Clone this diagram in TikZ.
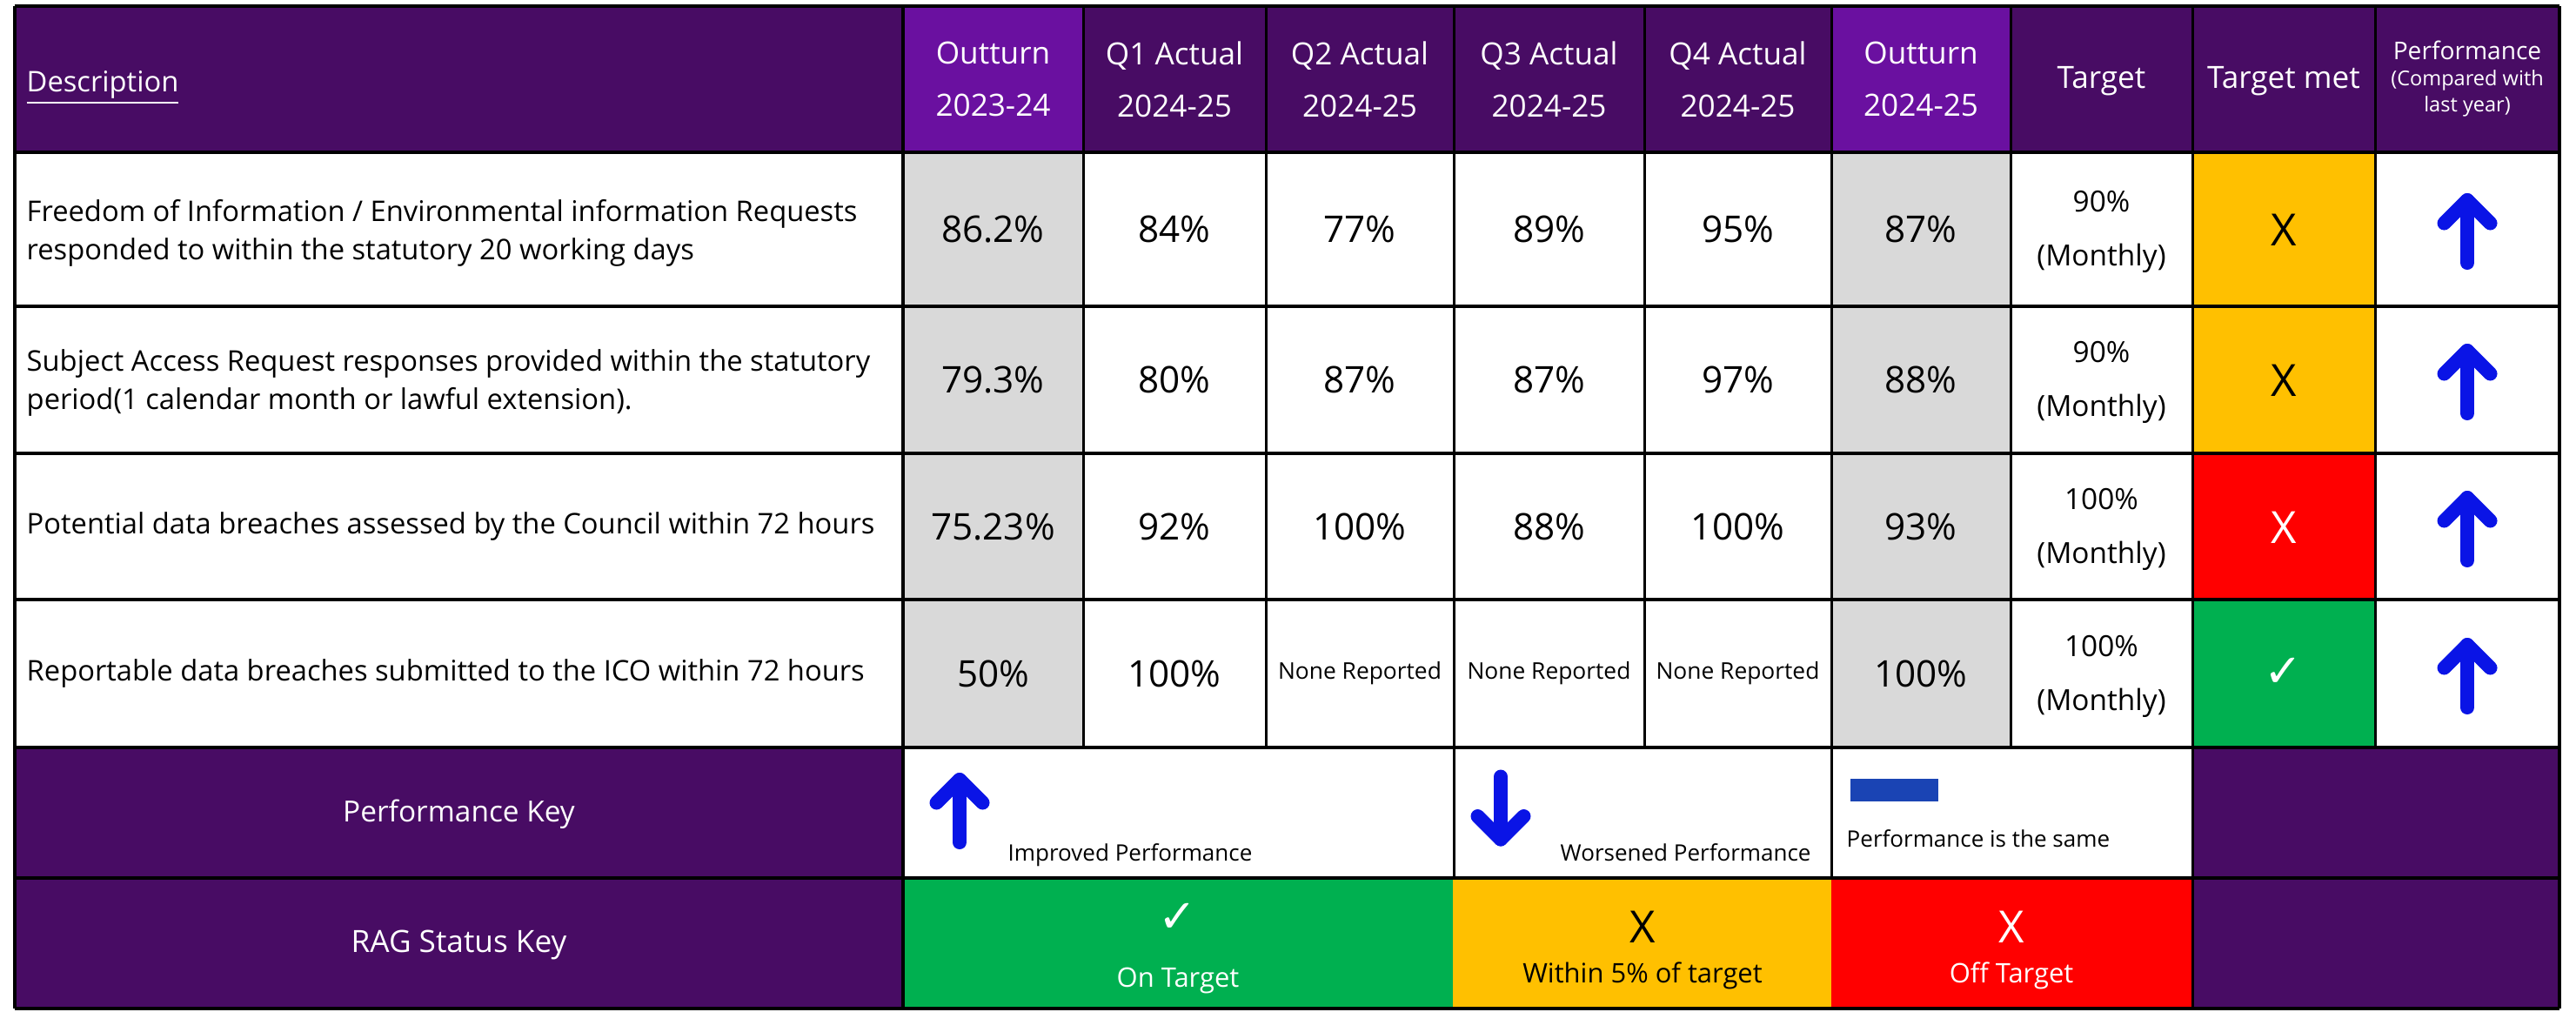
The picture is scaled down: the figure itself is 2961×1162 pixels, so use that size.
\documentclass[tikz,border=0pt]{standalone}
\usepackage{fontspec}
\setmainfont{Open Sans}
\newfontfamily\symfont{DejaVu Sans}
\usetikzlibrary{positioning}
\definecolor{darkpurple}{HTML}{480C64}
\definecolor{lightpurple}{HTML}{6A10A0}
\definecolor{cellgrey}{HTML}{D9D9D9}
\definecolor{amber}{HTML}{FFC000}
\definecolor{ragred}{HTML}{FF0000}
\definecolor{raggreen}{HTML}{00B050}
\definecolor{arrowblue}{HTML}{0A14E6}
\definecolor{sameblue}{HTML}{1A44B4}
\tikzset{
    hdr/.style={text=white, align=center, font=\fontsize{10}{17}\selectfont},
    desc/.style={anchor=west, align=left, inner sep=0pt, font=\fontsize{9.3}{12.6}\selectfont},
    val/.style={font=\fontsize{12}{14}\selectfont},
    none/.style={font=\fontsize{7.5}{9}\selectfont},
    tgt/.style={align=center, font=\fontsize{9.5}{17.6}\selectfont},
    metx/.style={font=\fontsize{14.5}{16}\selectfont},
    tick/.style={font=\symfont\fontsize{15}{16}\selectfont, text=white},
    keytxt/.style={anchor=base west, inner sep=0pt, font=\fontsize{7.4}{9}\selectfont},
    ragtxt/.style={anchor=base, font=\fontsize{8.8}{10}\selectfont},
    rowline/.style={line width=0.04cm},
    colline/.style={line width=0.03cm},
    arrowline/.style={draw=arrowblue, line width=0.16cm, line cap=round, line join=round},
    pics/uparr/.style={code={
        \draw[arrowline] (0,36) -- (0,-36);
        \draw[arrowline] (-26.5,-9.5) -- (0,-36) -- (26.5,-9.5);
    }}
}
\begin{document}
\begin{tikzpicture}[x=0.01cm, y=-0.01cm]
        \useasboundingbox (0,0) rectangle (2961,1162);
        \fill[darkpurple] (17,7) rectangle (2942,175);
        \fill[lightpurple] (1038,7) rectangle (1245,175);
        \fill[lightpurple] (2105,7) rectangle (2311,175);
        \fill[cellgrey] (1038,175) rectangle (1245,859);
        \fill[cellgrey] (2105,175) rectangle (2311,859);
        \fill[amber] (2520,175) rectangle (2730,521);
        \fill[ragred] (2520,521) rectangle (2730,689);
        \fill[raggreen] (2520,689) rectangle (2730,859);
        \fill[darkpurple] (17,859) rectangle (1038,1159);
        \fill[darkpurple] (2520,859) rectangle (2942,1159);
        \fill[raggreen] (1038,1009) rectangle (1670,1159);
        \fill[amber] (1670,1009) rectangle (2105,1159);
        \fill[ragred] (2105,1009) rectangle (2520,1159);
        \fill[sameblue] (2127,895) rectangle (2228,921);

        \draw[rowline] (17,7) -- (2942,7);
        \draw[rowline] (17,175) -- (2942,175);
        \draw[rowline] (17,352) -- (2942,352);
        \draw[rowline] (17,521) -- (2942,521);
        \draw[rowline] (17,689) -- (2942,689);
        \draw[rowline] (17,859) -- (2942,859);
        \draw[rowline] (17,1009) -- (2942,1009);
        \draw[rowline] (17,1159) -- (2942,1159);
        \draw[rowline] (17,7) -- (17,1159);
        \draw[rowline] (1038,7) -- (1038,1159);
        \draw[rowline] (2942,7) -- (2942,1159);
        \draw[colline] (1245,7) -- (1245,859);
        \draw[colline] (1455,7) -- (1455,859);
        \draw[colline] (1671,7) -- (1671,1009);
        \draw[colline] (1890,7) -- (1890,859);
        \draw[colline] (2105,7) -- (2105,1009);
        \draw[colline] (2311,7) -- (2311,859);
        \draw[colline] (2520,7) -- (2520,1159);
        \draw[colline] (2730,7) -- (2730,859);

        \node[anchor=base west, inner sep=0pt, text=white, font=\fontsize{9.3}{12}\selectfont] (HDesc) at (30,105) {\underline{Description}};
        \node[hdr] (HOut1) at (1141.5,91) {Outturn\\2023-24};
        \node[hdr] (HQ1) at (1350,91) {Q1 Actual\\2024-25};
        \node[hdr] (HQ2) at (1563,91) {Q2 Actual\\2024-25};
        \node[hdr] (HQ3) at (1780.5,91) {Q3 Actual\\2024-25};
        \node[hdr] (HQ4) at (1997.5,91) {Q4 Actual\\2024-25};
        \node[hdr] (HOut2) at (2208,91) {Outturn\\2024-25};
        \node[hdr] (HTgt) at (2415.5,93) {Target};
        \node[hdr] (HMet) at (2625,93) {Target met};
        \node[hdr, anchor=base, font=\fontsize{8}{10}\selectfont] (HPerf1) at (2836,68) {Performance};
        \node[hdr, anchor=base, font=\fontsize{6.7}{8}\selectfont] (HPerf2) at (2836,98) {(Compared with};
        \node[hdr, anchor=base, font=\fontsize{6.7}{8}\selectfont] (HPerf3) at (2836,128) {last year)};

        \node[desc] (DescA) at (30,268) {Freedom of Information / Environmental information Requests\\responded to within the statutory 20 working days};
        \node[val] (Out1A) at (1141.5,263) {86.2\%};
        \node[val] (Q1A) at (1350,263) {84\%};
        \node[val] (Q2A) at (1563,263) {77\%};
        \node[val] (Q3A) at (1780.5,263) {89\%};
        \node[val] (Q4A) at (1997.5,263) {95\%};
        \node[val] (Out2A) at (2208,263) {87\%};
        \node[tgt] (TgtA) at (2415.5,266) {90\%\\(Monthly)};
        \node[metx] (MetA) at (2625,264) {X};
        \pic (PerfA) at (2836,266) {uparr};

        \node[desc] (DescB) at (30,440) {Subject Access Request responses provided within the statutory\\period(1 calendar month or lawful extension).};
        \node[val] (Out1B) at (1141.5,436) {79.3\%};
        \node[val] (Q1B) at (1350,436) {80\%};
        \node[val] (Q2B) at (1563,436) {87\%};
        \node[val] (Q3B) at (1780.5,436) {87\%};
        \node[val] (Q4B) at (1997.5,436) {97\%};
        \node[val] (Out2B) at (2208,436) {88\%};
        \node[tgt] (TgtB) at (2415.5,439) {90\%\\(Monthly)};
        \node[metx] (MetB) at (2625,437) {X};
        \pic (PerfB) at (2836,439) {uparr};

        \node[desc] (DescC) at (30,605) {Potential data breaches assessed by the Council within 72 hours};
        \node[val] (Out1C) at (1141.5,605) {75.23\%};
        \node[val] (Q1C) at (1350,605) {92\%};
        \node[val] (Q2C) at (1563,605) {100\%};
        \node[val] (Q3C) at (1780.5,605) {88\%};
        \node[val] (Q4C) at (1997.5,605) {100\%};
        \node[val] (Out2C) at (2208,605) {93\%};
        \node[tgt] (TgtC) at (2415.5,608) {100\%\\(Monthly)};
        \node[metx, text=white] (MetC) at (2625,606) {X};
        \pic (PerfC) at (2836,608) {uparr};

        \node[desc] (DescD) at (30,774) {Reportable data breaches submitted to the ICO within 72 hours};
        \node[val] (Out1D) at (1141.5,774) {50\%};
        \node[val] (Q1D) at (1350,774) {100\%};
        \node[none] (Q2D) at (1563,774) {None Reported};
        \node[none] (Q3D) at (1780.5,774) {None Reported};
        \node[none] (Q4D) at (1997.5,774) {None Reported};
        \node[val] (Out2D) at (2208,774) {100\%};
        \node[tgt] (TgtD) at (2415.5,777) {100\%\\(Monthly)};
        \node[tick] (MetD) at (2625,773) {✓};
        \pic (PerfD) at (2836,777) {uparr};

        \node[hdr, font=\fontsize{9.5}{12}\selectfont] (PerfKey) at (527.5,936) {Performance Key};
        \pic (UpKey) at (1103,932) {uparr};
        \node[keytxt] (UpTxt) at (1158,989) {Improved Performance};
        \pic[rotate=180] (DownKey) at (1725,928.5) {uparr};
        \node[keytxt] (DownTxt) at (1793,989) {Worsened Performance};
        \node[keytxt] (SameTxt) at (2122,973) {Performance is the same};

        \node[hdr] (RagKey) at (527.5,1086) {RAG Status Key};
        \node[tick] (OnTick) at (1354,1055) {✓};
        \node[ragtxt, text=white] (OnTxt) at (1354,1134) {On Target};
        \node[metx] (WithinX) at (1888,1065) {X};
        \node[ragtxt] (WithinTxt) at (1888,1129) {Within 5\% of target};
        \node[metx, text=white] (OffX) at (2312,1065) {X};
        \node[ragtxt, text=white] (OffTxt) at (2312,1129) {Off Target};
    \end{tikzpicture}
\end{document}
